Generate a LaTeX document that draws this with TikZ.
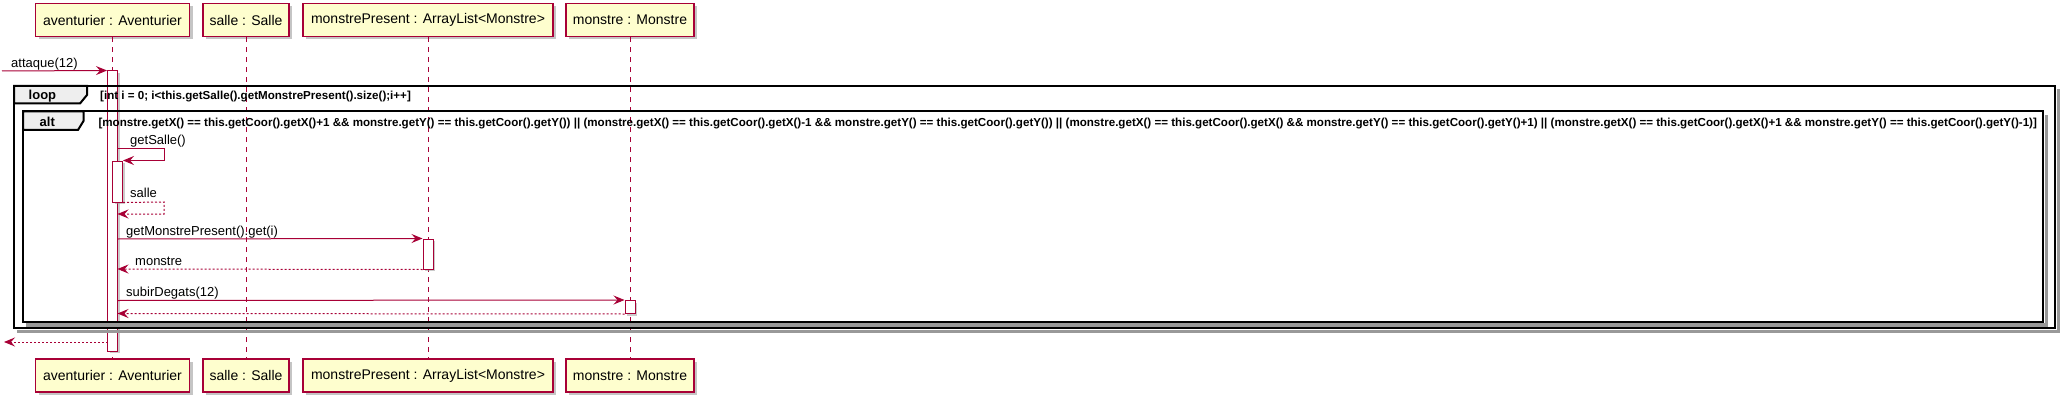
\documentclass[tikz,border=0pt]{standalone}
\usepackage{fontspec}
\setmainfont{Liberation Sans}
\usetikzlibrary{arrows.meta,shadows}
\definecolor{pcol}{HTML}{A80036}
\definecolor{pfill}{HTML}{FEFECE}
\definecolor{tabfill}{HTML}{EEEEEE}
\begin{document}
\begin{tikzpicture}[x=1pt,y=-1pt,
  part/.style={draw=pcol, fill=pfill, line width=1.5pt, minimum height=33pt, inner sep=0pt,
    font=\fontsize{14}{16}\selectfont,
    drop shadow={shadow xshift=3pt, shadow yshift=-3pt, fill=black!45, opacity=0.5}},
  lifeline/.style={draw=pcol, dash pattern=on 5pt off 5pt, line width=0.9pt},
  actbox/.style={draw=pcol, fill=white, line width=1pt, minimum width=10pt, inner sep=0pt,
    drop shadow={shadow xshift=2pt, shadow yshift=-2pt, fill=black!40, opacity=0.5}},
  msg/.style={draw=pcol, line width=1pt, -{Stealth[length=11pt,width=9pt,inset=4pt]}},
  ret/.style={msg, dash pattern=on 2pt off 2pt},
  mlabel/.style={font=\fontsize{13}{15}\selectfont, anchor=base west, inner sep=0pt},
  frame/.style={draw=black, line width=2pt},
  fshadow/.style={draw=black!40, line width=3.5pt},
  tab/.style={draw=black, fill=tabfill, line width=2pt},
  tablabel/.style={font=\fontsize{13}{15}\selectfont\bfseries, anchor=base west, inner sep=0pt},
  cond/.style={font=\fontsize{11.6}{13}\selectfont\bfseries, anchor=base west, inner sep=0pt}
]
\useasboundingbox[fill=white] (0,0) rectangle (2060,401);

% participants
\node[part, minimum width=154pt] (avT) at (112.5,20) {aventurier : Aventurier};
\node[part, minimum width=86pt]  (saT) at (246,20) {salle : Salle};
\node[part, minimum width=250pt] (mpT) at (428,20) {monstrePresent : ArrayList<Monstre>};
\node[part, minimum width=128pt] (moT) at (630,20) {monstre : Monstre};
\node[part, minimum width=154pt] (avB) at (112.5,375.5) {aventurier : Aventurier};
\node[part, minimum width=86pt]  (saB) at (246,375.5) {salle : Salle};
\node[part, minimum width=250pt] (mpB) at (428,375.5) {monstrePresent : ArrayList<Monstre>};
\node[part, minimum width=128pt] (moB) at (630,375.5) {monstre : Monstre};

% lifelines
\draw[lifeline] (avT.south) -- (avB.north);
\draw[lifeline] (saT.south) -- (saB.north);
\draw[lifeline] (mpT.south) -- (mpB.north);
\draw[lifeline] (moT.south) -- (moB.north);

% activations
\node[actbox, minimum height=280pt] (act1) at (112.5,211) {};
\node[actbox, minimum height=41pt] (act2) at (117.5,181.5) {};
\node[actbox, minimum height=30pt] (act3) at (428,254) {};
\node[actbox, minimum height=13pt] (act4) at (630,307) {};

% frames: loop
\draw[fshadow] (17,331.5) -- (2058.5,331.5) -- (2058.5,89);
\draw[frame] (14,86) rectangle (2055,328);
\draw[tab] (14,86) -- (87,86) -- (87,95) -- (80,103.5) -- (14,103.5) -- cycle;
\node[tablabel] (loopL) at (28.5,100) {loop};
\node[cond] (loopC) at (100,100) {[int i = 0; i<this.getSalle().getMonstrePresent().size();i++]};

% frames: alt
\draw[fshadow] (26,325) -- (2046.5,325) -- (2046.5,115);
\draw[frame] (23,111.5) rectangle (2043,321.5);
\draw[tab] (23,111.5) -- (83.5,111.5) -- (83.5,121) -- (78,130) -- (23,130) -- cycle;
\node[tablabel] (altL) at (39.5,126.7) {alt};
\node[cond] (altC) at (98.3,126.7) {[monstre.getX() == this.getCoor().getX()+1 \&\& monstre.getY() == this.getCoor().getY()) || (monstre.getX() == this.getCoor().getX()-1 \&\& monstre.getY() == this.getCoor().getY()) || (monstre.getX() == this.getCoor().getX() \&\& monstre.getY() == this.getCoor().getY()+1) || (monstre.getX() == this.getCoor().getX()+1 \&\& monstre.getY() == this.getCoor().getY()-1)]};

% message end points
\coordinate (in0) at (2,71);
\coordinate (out0) at (4,342);
\coordinate (m1s) at (117.5,148);
\coordinate (m1b) at (164,148);
\coordinate (m2b) at (164,202);
\coordinate (m2e) at (117.5,214);
\coordinate (m3s) at (117.5,239);
\coordinate (m4e) at (117.5,269);
\coordinate (m5s) at (117.5,300.5);
\coordinate (m6e) at (117.5,313.5);
\coordinate (m7s) at (107.5,342);

% messages
\draw[msg] (in0) -- (act1.north west);
\node[mlabel] (l0) at (11,67.3) {attaque(12)};

\draw[msg] (m1s) -- (m1b) |- (act2.north east);
\node[mlabel] (l1) at (130,144) {getSalle()};

\draw[ret] (act2.south east) -- (m2b) |- (m2e);
\node[mlabel] (l2) at (130,197) {salle};

\draw[msg] (m3s) -- (act3.north west);
\node[mlabel] (l3) at (126,235) {getMonstrePresent().get(i)};

\draw[ret] (act3.south west) -- (m4e);
\node[mlabel] (l4) at (135,265) {monstre};

\draw[msg] (m5s) -- (act4.north west);
\node[mlabel] (l5) at (126,296.5) {subirDegats(12)};

\draw[ret] (act4.south west) -- (m6e);

\draw[ret] (m7s) -- (out0);
\end{tikzpicture}
\end{document}
